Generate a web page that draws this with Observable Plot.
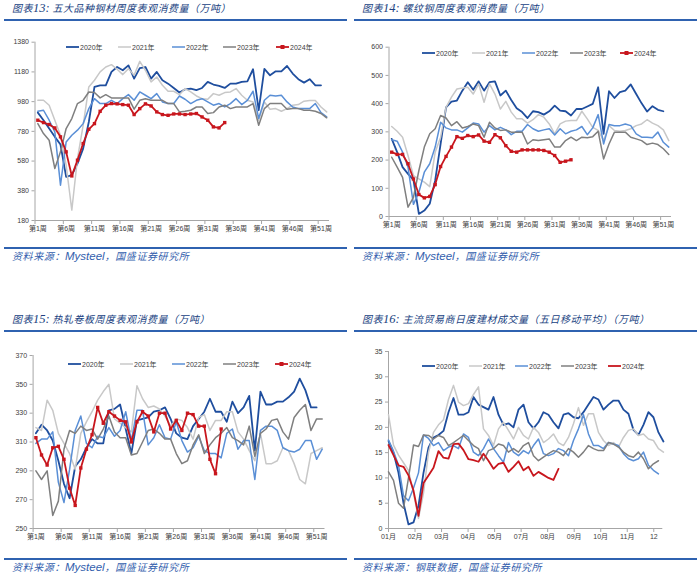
<!DOCTYPE html>
<html><head><meta charset="utf-8">
<script src="https://cdn.jsdelivr.net/npm/d3@7"></script>
<script src="https://cdn.jsdelivr.net/npm/@observablehq/plot@0.6"></script>
<style>
html,body{margin:0;padding:0;background:#fff;}
body{width:700px;height:573px;position:relative;overflow:hidden;font-family:"Noto Sans CJK SC",sans-serif;}
.panel{position:absolute;width:350px;height:262px;}
.title{position:absolute;left:12px;top:1px;font-size:10px;letter-spacing:0.5px;font-style:italic;color:#203f7f;white-space:nowrap;line-height:14px;}
.title .num{font-family:"Liberation Serif",serif;font-size:12.5px;letter-spacing:0;}
.rule{position:absolute;left:4px;width:343px;height:2px;background:#2f62b0;}
.src{position:absolute;left:12px;font-size:10px;font-style:italic;color:#3360ad;white-space:nowrap;letter-spacing:0.6px;line-height:10px;}
.src .lat{font-family:"Liberation Sans",sans-serif;font-size:11.5px;letter-spacing:0;}
.chart{position:absolute;left:0;top:25px;}
.leg{position:absolute;display:flex;align-items:center;height:8px;font-family:"Liberation Sans","Noto Sans CJK SC",sans-serif;font-size:7px;color:#404040;white-space:nowrap;}
.leg svg{display:block;margin-right:1px;}
</style>
</head><body>
<script>
// ---------- Data ----------
const seriesNames = ["2020年","2021年","2022年","2023年","2024年"];
const weekLabelTicks = [1,6,11,16,21,26,31,36,41,46,51];
const monthLabels = ["01月","02月","03月","04月","05月","07月","08月","09月","10月","11月","12"];

// 图表13 五大品种钢材周度表观消费量
const steel5_2020 = [906,855,799,743,691,474,485,563,664,843,1079,1090,1090,1180,1213,1191,1224,1135,1206,1213,1135,1180,1124,1101,1072,1041,1063,1068,1057,1072,1113,1095,1086,1072,1101,1101,1113,1117,1198,922,1200,1157,1184,1184,1220,1169,1131,1108,1131,1090,1090];
const steel5_2021 = [989,989,956,855,754,552,250,597,821,1079,1124,1180,1213,1229,1198,1162,1202,1157,1251,1191,1113,1146,1090,1050,1050,1027,1068,1045,1018,1000,996,1034,1023,1041,1045,1068,1023,989,978,855,978,929,933,915,933,956,960,983,987,987,944,911];
const steel5_2022 = [915,922,855,776,418,709,754,788,832,933,1000,967,967,989,967,1000,1027,989,1045,1023,1000,1034,978,967,967,1018,996,967,989,1000,978,956,967,944,967,1000,960,989,1050,866,989,1023,1018,1023,978,944,933,933,933,967,906,877];
const steel5_2023 = [832,765,720,530,642,799,866,967,989,1045,1041,1005,1027,1005,1005,1005,1005,929,989,1000,989,989,989,967,967,911,915,922,944,944,900,906,944,956,933,944,944,944,967,821,933,967,967,967,929,933,933,922,922,915,900,871];
const steel5_2024 = [855,839,826,803,743,642,480,586,698,794,832,915,956,967,965,960,956,893,933,965,951,911,893,888,897,897,893,897,900,877,855,810,803,839];

// 图表14 螺纹钢周度表观消费量
const rebar_2020 = [275,228,175,151,130,9,21,45,128,257,387,407,411,446,476,449,479,446,476,479,429,446,413,384,370,349,373,370,361,373,393,375,373,358,381,381,390,399,458,293,444,420,441,446,468,434,401,372,391,378,373];
const rebar_2021 = [319,302,281,216,145,133,122,106,228,281,387,423,452,455,458,434,470,405,470,434,381,408,370,346,346,331,343,361,352,328,293,328,338,340,340,373,346,316,305,269,322,305,302,305,311,322,328,343,331,322,307,269];
const rebar_2022 = [272,267,228,175,43,86,157,187,246,334,314,307,307,299,314,331,328,299,322,307,316,307,290,302,302,326,311,302,307,311,289,311,293,302,307,319,290,314,361,257,326,322,322,328,322,293,281,281,279,299,263,246];
const rebar_2023 = [210,175,139,33,68,163,246,293,311,358,349,322,336,314,319,328,322,281,334,314,305,307,299,299,299,257,272,269,272,275,246,246,269,281,269,281,279,283,302,204,257,299,299,299,281,275,269,255,260,255,240,220];
const rebar_2024 = [228,220,220,187,133,78,66,71,113,177,213,246,283,277,287,283,289,267,263,290,279,251,231,228,236,236,236,236,234,228,216,192,196,201];

// 图表15 热轧卷板周度表观消费量
const hrc_2020 = [316,322,318,311,297,281,271,293,298,306,312,309,309,332,333,336,319,302,325,326,327,331,332,334,326,316,313,312,321,326,331,340,331,331,324,338,330,334,342,304,345,336,336,338,338,341,345,354,346,334,334];
const hrc_2021 = [320,318,339,332,316,309,302,291,316,324,331,339,345,350,326,323,320,317,349,340,334,335,333,328,321,326,325,320,312,327,329,318,325,325,331,331,317,312,304,297,316,295,295,297,306,304,295,284,281,302,304,306];
const hrc_2022 = [309,312,312,317,282,268,291,318,328,309,306,314,313,320,314,318,331,311,332,332,308,313,322,313,312,324,311,303,306,314,304,302,302,299,316,319,305,311,311,284,318,321,321,318,306,304,303,305,311,311,298,305];
const hrc_2023 = [290,284,290,259,269,305,318,316,321,318,319,312,319,328,317,313,313,301,302,310,318,319,316,312,312,302,295,297,308,315,302,308,313,316,320,313,311,308,321,300,316,319,325,326,317,312,327,332,336,318,326,326];
const hrc_2024 = [313,301,294,306,307,298,278,266,292,305,315,334,323,331,328,325,324,310,324,331,328,317,330,330,319,325,318,330,329,321,321,298,288,319];

// 图表16 主流贸易商日度建材成交量（五日移动平均）, sampled along the year
const trade_2020 = [17.3,15,11,5,0.8,1.2,4.5,11,16,18,18.5,19.3,23,25.8,22.5,22.5,23,26,24.5,24,23.5,26,22.5,20.5,20.8,20,23.5,24.5,21,19.8,21,23,22.5,21,19.8,22.5,22.8,22,21.8,23,24.5,26,25.5,23.5,24.5,25.3,25.3,23.5,22.7,19.5,18.5,20.5,23,22,19,17.2];
const trade_2021 = [22.5,16.5,14.5,13,11.5,7,2,7,15,19,20.5,21.5,25.5,28.3,25,24.3,24.7,26.5,28,19.7,18.4,16.4,19.7,21,19.4,17.7,20,18.4,17.7,20,19,17,17.7,18.7,17,16.4,18,20.7,23.9,20.4,22.7,22.7,19,17.4,16.4,17,16.1,18,19.4,19.7,18.4,18.7,17.7,17.4,15.8,15.1];
const trade_2022 = [17.5,15.3,12.5,6.5,5.5,8,11,18.5,17.8,16.4,17,15.4,16.1,16.4,15.8,18.7,18,15.1,14.4,15.8,17.7,15.8,14.4,13.1,17,15.1,14.4,15.4,14.8,16.4,17.7,14.8,14.4,14.8,15.8,15.4,14.4,17.4,19.7,22.5,18.7,16.4,16.4,15.8,17,16.7,16.4,14.8,13.8,13.4,13.8,15.1,12.5,11.5,10.8];
const trade_2023 = [11.2,9.5,5,4,10,16.5,16.2,18.5,18.4,17.7,18.4,18,16.4,17,17.7,18.4,17.4,16.4,15.8,13.4,15.4,15.8,16.7,16.4,15.1,15.8,15.1,16.4,17,14.4,13.4,14.1,14.8,15.4,15.1,14.4,15.8,15.1,14.1,15.1,16.4,15.8,15.4,15.4,17,16.7,16.1,15.1,14.4,14.1,15.1,13.8,11.8,12.8,13.4];
const trade_2024 = [16.5,14.5,12.5,12.2,10.5,7.5,2.5,9,10.5,12,15.3,14,13.8,16.7,16.8,15.5,13.7,13.5,13.2,14.8,13.4,11.8,12.8,13,11.2,12.2,13.3,11.5,12.2,10.4,11.2,10.6,10,9.6,11.8];

// ---------- Style ----------
const COLORS = ["#1f4e9e","#c8c8c8","#5a8fd6","#7f7f7f","#c8161d"];
const WIDTHS = [1.8,1.5,1.5,1.5,1.8];
const AXIS = "#a6a6a6";
const TEXT = "#404040";
const FONT = '"Liberation Sans","Noto Sans CJK SC",sans-serif';

function seriesDefs(arrs, markers) {
  return arrs.map((values, i) => ({name: seriesNames[i], values, color: COLORS[i], width: WIDTHS[i], marker: markers && i === 4}));
}

function yAxis(ticks) {
  return Plot.axisY({ticks, tickSize: 3, tickPadding: 3, tickFormat: d => String(d), label: null, stroke: AXIS, fill: TEXT, fontSize: 7, fontFamily: FONT});
}

function weekChart(cfg) {
  const marks = [
    yAxis(cfg.yTicks),
    Plot.axisX({ticks: weekLabelTicks.map(w => w - 0.5), tickSize: 4, tickFormat: () => "", label: null, stroke: AXIS}),
    Plot.axisX({ticks: weekLabelTicks, tickSize: 0, tickPadding: 6, tickFormat: w => `第${w}周`, label: null, fill: TEXT, fontSize: 7, fontFamily: FONT}),
    Plot.ruleX([0.5], {stroke: AXIS}),
    Plot.ruleY([cfg.yDomain[0]], {stroke: AXIS})
  ];
  for (const s of cfg.series) {
    const data = s.values.map((v, i) => ({w: i + 1, v}));
    marks.push(Plot.line(data, {x: "w", y: "v", stroke: s.color, strokeWidth: s.width}));
    if (s.marker) marks.push(Plot.dot(data, {x: "w", y: "v", symbol: "square", fill: s.color, r: 1.9}));
  }
  return Plot.plot({
    width: 350, height: 220,
    marginTop: cfg.mt, marginBottom: cfg.mb, marginLeft: cfg.ml, marginRight: cfg.mr,
    x: {domain: [0.5, 52.5], label: null},
    y: {domain: cfg.yDomain, label: null},
    style: {fontFamily: FONT, fontSize: "7px", background: "transparent", overflow: "visible"},
    marks
  });
}

function dailyChart(cfg) {
  const step = 15 / 79.6; // sample spacing in months
  const marks = [
    yAxis(cfg.yTicks),
    Plot.axisX({ticks: d3.range(monthLabels.length), tickSize: 4, tickPadding: 2, tickFormat: i => monthLabels[i], label: null, stroke: AXIS, fill: TEXT, fontSize: 7, fontFamily: FONT}),
    Plot.ruleX([0], {stroke: AXIS}),
    Plot.ruleY([0], {stroke: AXIS})
  ];
  for (const s of cfg.series) {
    const data = s.values.map((v, i) => ({t: i * step, v}));
    marks.push(Plot.line(data, {x: "t", y: "v", stroke: s.color, strokeWidth: s.width}));
  }
  return Plot.plot({
    width: 350, height: 220,
    marginTop: cfg.mt, marginBottom: cfg.mb, marginLeft: cfg.ml, marginRight: cfg.mr,
    x: {domain: [0, 10.34], label: null},
    y: {domain: cfg.yDomain, label: null},
    style: {fontFamily: FONT, fontSize: "7px", background: "transparent", overflow: "visible"},
    marks
  });
}

function legend(panel, items, xs, y, markers) {
  items.forEach((s, i) => {
    const d = document.createElement("div");
    d.className = "leg";
    d.style.left = xs[i] + "px";
    d.style.top = (y - 4) + "px";
    const w = 13;
    let svg = `<svg width="${w}" height="6"><line x1="0" x2="${w}" y1="3" y2="3" stroke="${s.color}" stroke-width="${s.width}"/>`;
    if (markers && i === 4) svg += `<rect x="${w/2-2}" y="1" width="4" height="4" fill="${s.color}"/>`;
    svg += `</svg>`;
    d.innerHTML = svg + `<span>${s.name}</span>`;
    panel.appendChild(d);
  });
}

function panel(cfg) {
  const p = document.createElement("div");
  p.className = "panel";
  p.style.left = cfg.left + "px";
  p.style.top = cfg.top + "px";
  p.innerHTML = `<div class="title">图表<span class="num">${cfg.num}:</span> ${cfg.title}</div>
    <div class="rule" style="top:19px"></div>
    <div class="rule" style="top:247px"></div>
    <div class="src" style="top:251px">${cfg.src}</div>`;
  const c = document.createElement("div");
  c.className = "chart";
  c.appendChild(cfg.chart);
  p.appendChild(c);
  legend(p, cfg.series, cfg.legX, cfg.legY, cfg.markers);
  document.body.appendChild(p);
}

const srcMy = '资料来源：<span class="lat">Mysteel</span>，国盛证券研究所';

const s1 = seriesDefs([steel5_2020, steel5_2021, steel5_2022, steel5_2023, steel5_2024], true);
panel({left: 0, top: 0, num: "13", title: "五大品种钢材周度表观消费量（万吨）", src: srcMy,
  series: s1, markers: true, legX: [66,118,172,223,276], legY: 46.5,
  chart: weekChart({series: s1, yDomain: [180, 1380], yTicks: d3.range(180, 1381, 200), mt: 16.7, mb: 25, ml: 34.5, mr: 21})});

const s2 = seriesDefs([rebar_2020, rebar_2021, rebar_2022, rebar_2023, rebar_2024], true);
panel({left: 350, top: 0, num: "14", title: "螺纹钢周度表观消费量（万吨）", src: srcMy,
  series: s2, markers: true, legX: [72,122,172,220,270], legY: 53,
  chart: weekChart({series: s2, yDomain: [0, 600], yTicks: d3.range(0, 601, 100), mt: 21.7, mb: 29, ml: 38.5, mr: 29})});

const s3 = seriesDefs([hrc_2020, hrc_2021, hrc_2022, hrc_2023, hrc_2024], true);
panel({left: 0, top: 311, num: "15", title: "热轧卷板周度表观消费量（万吨）", src: srcMy,
  series: s3, markers: true, legX: [68,120,172,223,275], legY: 53,
  chart: weekChart({series: s3, yDomain: [250, 370], yTicks: d3.range(250, 371, 20), mt: 19, mb: 28, ml: 32.6, mr: 25.5})});

const s4 = seriesDefs([trade_2020, trade_2021, trade_2022, trade_2023, trade_2024], false);
panel({left: 350, top: 311, num: "16", title: "主流贸易商日度建材成交量（五日移动平均）（万吨）", src: "资料来源：钢联数据，国盛证券研究所",
  series: s4, markers: false, legX: [72,119,165,211,258], legY: 55,
  chart: dailyChart({series: s4, yDomain: [0, 35], yTicks: d3.range(0, 36, 5), mt: 15, mb: 28, ml: 38, mr: 37.7})});
</script>
</body></html>
